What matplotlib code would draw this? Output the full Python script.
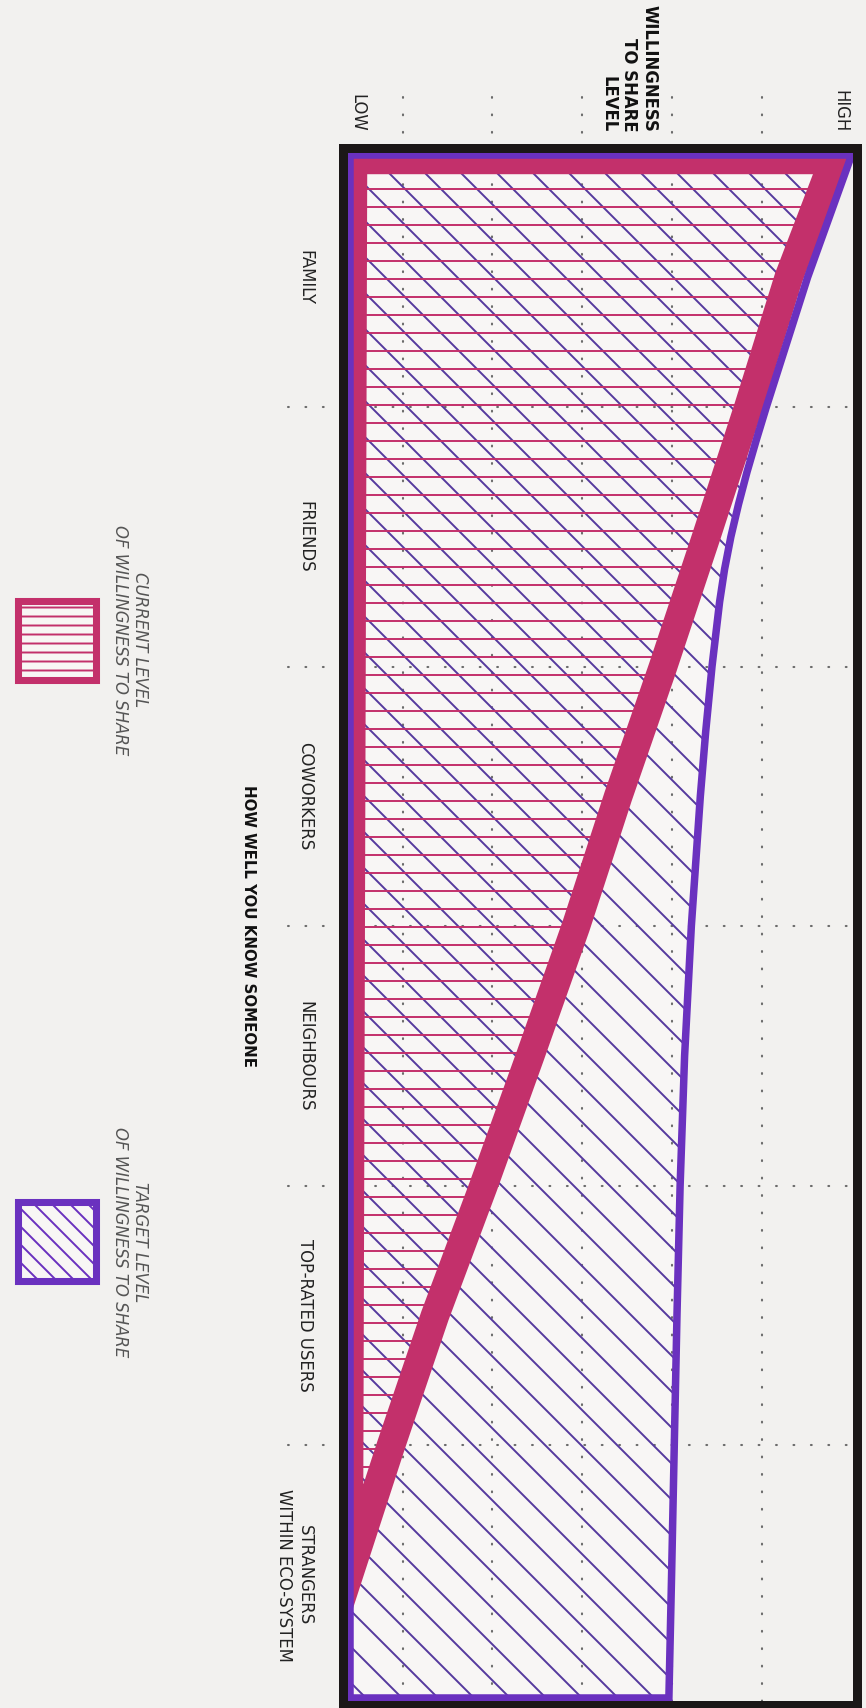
import numpy as np
import matplotlib
matplotlib.use('Agg')
import matplotlib.pyplot as plt
from matplotlib.patches import Polygon, Rectangle
from matplotlib.transforms import blended_transform_factory

# categories run down the page, willingness runs left (LOW) to right (HIGH)
categories = ['FAMILY', 'FRIENDS', 'COWORKERS', 'NEIGHBOURS',
              'TOP-RATED USERS', 'STRANGERS\nWITHIN ECO-SYSTEM']

# willingness level (0.33 = LOW edge .. 6.06 = HIGH edge) along the category axis
target_pos = [-0.5, 0, 0.25, 0.5, 0.625, 0.75, 0.875, 1, 1.125, 1.25, 1.5, 1.75,
              2, 2.5, 3, 3.5, 4, 4.5, 5, 5.5]
target_level = [6.0, 5.51, 5.28, 5.05, 4.94, 4.835, 4.74, 4.655, 4.585, 4.53,
                4.445, 4.375, 4.315, 4.215, 4.14, 4.09, 4.055, 4.025, 3.995, 3.965]
current_pos = [-0.5, 0, 0.5, 1, 1.5, 2, 2.5, 3, 3.5, 4, 4.5, 5]
current_level = [5.80, 5.30, 4.85, 4.38, 3.90, 3.40, 2.93, 2.42, 1.90,
                 1.36, 0.87, 0.40]
level_grid = [1, 2, 3, 4, 5]
category_grid = [0.5, 1.5, 2.5, 3.5, 4.5]

BG = '#f2f1ef'
INNER = '#f8f6f5'
MAGENTA = '#c3306b'
PURPLE = '#6a31bf'
PURPLE_H = '#553a9e'
FRAME = '#1b1717'
GRID = '#6b6b6b'

W, H, DPI = 866, 1708, 108
plt.rcParams['font.family'] = ['DejaVu Sans']
plt.rcParams['hatch.linewidth'] = 1.3

fig = plt.figure(figsize=(W / DPI, H / DPI), dpi=DPI, facecolor=BG)


def fx(px):
    return px / W


def fy(py):
    return 1 - py / H


ax = fig.add_axes([fx(342.5), fy(1705), (857 - 342.5) / W, (1705 - 147.5) / H])
ax.set_facecolor(BG)
ax.set_xlim(0.33, 6.06)
ax.set_ylim(5.5, -0.5)
ax.set_xticks([])
ax.set_yticks([])
for sp in ax.spines.values():
    sp.set_linewidth(6)
    sp.set_color(FRAME)
    sp.set_zorder(6)

# inner edges of the outlined areas
L_t, T_t, B_t = 0.4135, -0.471, 5.473
L_c, T_c = 0.447, -0.452

tverts = [(L_t, T_t)] + list(zip(target_level, np.clip(target_pos, T_t, B_t))) + [(L_t, B_t)]
cverts = [(L_c, T_c)] + list(zip(current_level, np.clip(current_pos, T_c, None)))

ax.add_patch(Polygon(tverts, closed=True, facecolor=INNER, edgecolor='none', zorder=1))
ax.add_patch(Polygon(tverts, closed=True, facecolor='none', edgecolor=PURPLE_H,
                     lw=0, hatch='\\', zorder=2))
ax.add_patch(Polygon(cverts, closed=True, facecolor='none', edgecolor=MAGENTA,
                     lw=0, hatch='-', zorder=2.5))

# dotted grid
for g in level_grid:
    ax.plot([g, g], [-0.695, 5.5], color=GRID, lw=1.4, linestyle=(0, (0.4, 7.9)),
            dash_capstyle='round', clip_on=False, zorder=1.5)
for g in category_grid:
    ax.plot([-0.277, 6.0], [g, g], color=GRID, lw=1.4, linestyle=(0, (0.4, 7.9)),
            dash_capstyle='round', clip_on=False, zorder=1.5)

ax.add_patch(Polygon(cverts, closed=True, facecolor='none', edgecolor=MAGENTA,
                     lw=19, zorder=3))
ax.add_patch(Polygon(tverts, closed=True, facecolor='none', edgecolor=PURPLE,
                     lw=5, zorder=4))

# axis texts
ax.text(fx(357), fy(132), 'LOW', transform=fig.transFigure, rotation=-90,
        rotation_mode='anchor', ha='right', va='center', fontsize=11, color='#222')
ax.text(fx(840), fy(132), 'HIGH', transform=fig.transFigure, rotation=-90,
        rotation_mode='anchor', ha='right', va='center', fontsize=11, color='#222')
ax.text(fx(629), fy(132), 'WILLINGNESS\nTO SHARE\nLEVEL', transform=fig.transFigure,
        rotation=-90, rotation_mode='anchor', ha='right', va='center',
        multialignment='right', fontsize=11, fontweight='bold', color='#111')

trans = blended_transform_factory(fig.transFigure, ax.transData)
for i, cat in enumerate(categories):
    ax.text(fx(314), i, cat, transform=trans, rotation=-90, rotation_mode='anchor',
            ha='center', va='top', multialignment='center', fontsize=11, color='#222')
ax.text(fx(248), 2.5, 'HOW WELL YOU KNOW SOMEONE', transform=trans, rotation=-90,
        rotation_mode='anchor', ha='center', va='center', fontsize=10,
        fontweight='bold', color='#111')

# legend
fig.add_artist(Rectangle((fx(17.5), fy(679.5)), 78 / W, 79 / H, transform=fig.transFigure,
                         facecolor=INNER, edgecolor=MAGENTA, lw=4.7, hatch='--'))
fig.add_artist(Rectangle((fx(17.5), fy(1280.5)), 78 / W, 79 / H, transform=fig.transFigure,
                         facecolor=INNER, edgecolor=PURPLE, lw=4.7, hatch='\\\\'))
fig.text(fx(130), fy(640), 'CURRENT LEVEL\nOF WILLINGNESS TO SHARE', rotation=-90,
         rotation_mode='anchor', ha='center', va='center', multialignment='center',
         fontsize=11, style='italic', color='#555')
fig.text(fx(130), fy(1242), 'TARGET LEVEL\nOF WILLINGNESS TO SHARE', rotation=-90,
         rotation_mode='anchor', ha='center', va='center', multialignment='center',
         fontsize=11, style='italic', color='#555')

fig.savefig('out.png', dpi=DPI, facecolor=BG)
